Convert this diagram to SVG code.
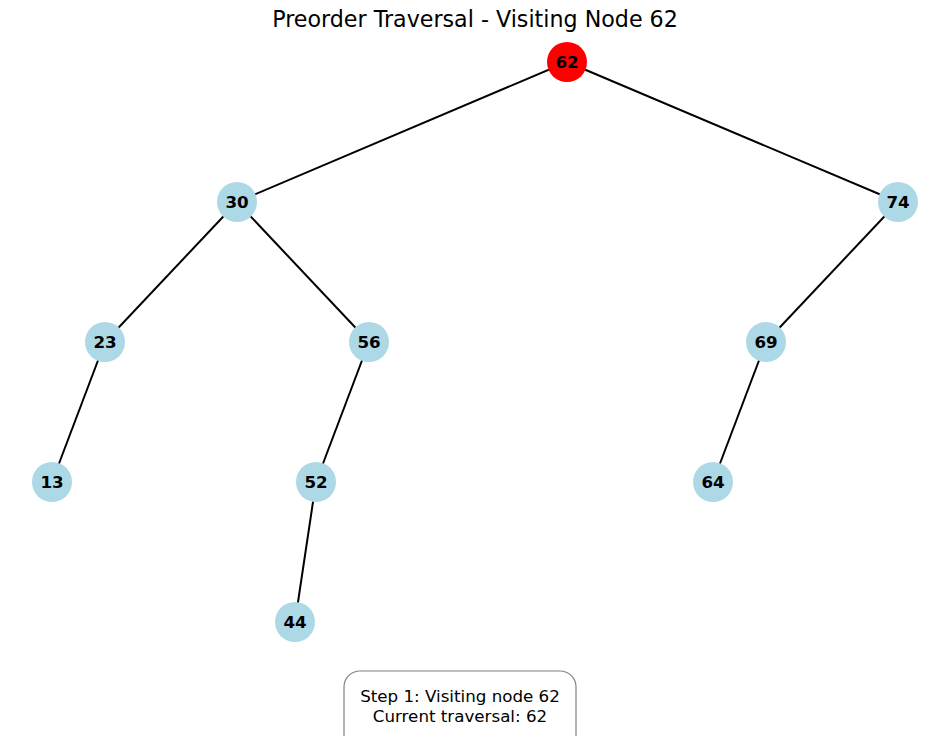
<svg xmlns="http://www.w3.org/2000/svg" width="950" height="736" viewBox="0 0 950 736">
<style>
.e{stroke:#000;stroke-width:2;fill:none}
.n circle{fill:#add8e6}
.n text{font-family:"DejaVu Sans",sans-serif;font-weight:bold;font-size:16.7px;fill:#000;text-anchor:middle;dominant-baseline:central}
.t{font-family:"DejaVu Sans",sans-serif;fill:#000;text-anchor:middle;dominant-baseline:central}
</style>
<rect width="950" height="736" fill="#fff"/>
<text class="t" x="475" y="19" font-size="22.2">Preorder Traversal - Visiting Node 62</text>
<g id="edges">
<line class="e" x1="567" y1="62" x2="237" y2="202"/>
<line class="e" x1="567" y1="62" x2="898" y2="202"/>
<line class="e" x1="237" y1="202" x2="105" y2="342"/>
<line class="e" x1="237" y1="202" x2="369" y2="342"/>
<line class="e" x1="898" y1="202" x2="766" y2="342"/>
<line class="e" x1="105" y1="342" x2="52" y2="482"/>
<line class="e" x1="369" y1="342" x2="316" y2="482"/>
<line class="e" x1="766" y1="342" x2="713" y2="482"/>
<line class="e" x1="316" y1="482" x2="295" y2="622"/>
</g>
<g id="n62" class="n"><circle cx="567" cy="62" r="20" style="fill:#ff0000"/><text x="567" y="62">62</text></g>
<g id="n30" class="n"><circle cx="237" cy="202" r="20"/><text x="237" y="202">30</text></g>
<g id="n74" class="n"><circle cx="898" cy="202" r="20"/><text x="898" y="202">74</text></g>
<g id="n23" class="n"><circle cx="105" cy="342" r="20"/><text x="105" y="342">23</text></g>
<g id="n56" class="n"><circle cx="369" cy="342" r="20"/><text x="369" y="342">56</text></g>
<g id="n69" class="n"><circle cx="766" cy="342" r="20"/><text x="766" y="342">69</text></g>
<g id="n13" class="n"><circle cx="52" cy="482" r="20"/><text x="52" y="482">13</text></g>
<g id="n52" class="n"><circle cx="316" cy="482" r="20"/><text x="316" y="482">52</text></g>
<g id="n64" class="n"><circle cx="713" cy="482" r="20"/><text x="713" y="482">64</text></g>
<g id="n44" class="n"><circle cx="295" cy="622" r="20"/><text x="295" y="622">44</text></g>
<g id="info">
<rect x="344" y="671" width="232" height="85" rx="16" fill="#fff" stroke="#808080" stroke-width="1.2"/>
<text class="t" x="460" y="696" font-size="16.7">Step 1: Visiting node 62</text>
<text class="t" x="460" y="716" font-size="16.7">Current traversal: 62</text>
</g>
</svg>
